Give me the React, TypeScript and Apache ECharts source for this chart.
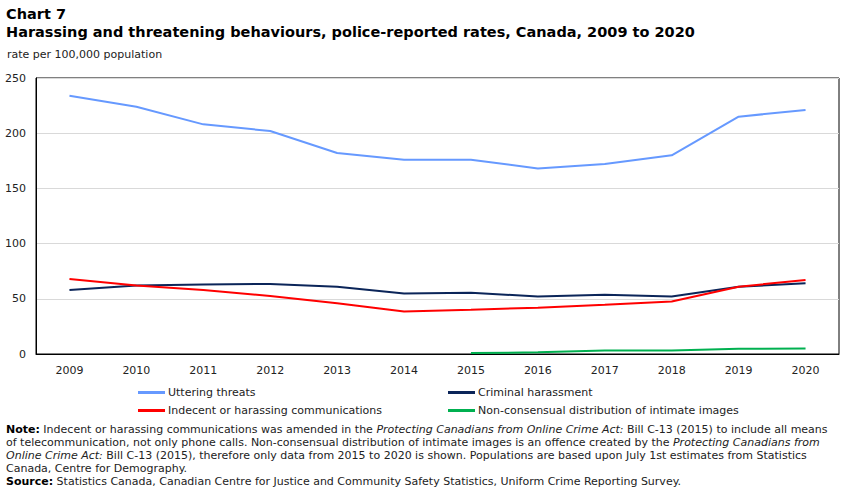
import React, { useEffect, useRef } from "react";
import * as echarts from "echarts";

const years = ["2009", "2010", "2011", "2012", "2013", "2014", "2015", "2016", "2017", "2018", "2019", "2020"];
const utteringThreats = [234, 224, 208, 202, 182, 176, 176, 168, 172, 180, 215, 221];
const criminalHarassment = [58, 62, 63, 63.5, 61, 54.8, 55.5, 52, 53.6, 52, 61, 64];
const indecentComms = [68, 62, 58, 52.5, 46, 38.5, 40, 42, 44.5, 47.5, 61, 67];
const nonConsensual = [null, null, null, null, null, null, 0.8, 1.5, 3.1, 3.2, 4.8, 4.9];
const yTicks = { min: 0, max: 250, interval: 50 };

const FONT = "DejaVu Sans, Verdana, sans-serif";

export default function App() {
  const ref = useRef<HTMLDivElement>(null);
  useEffect(() => {
    const chart = echarts.init(ref.current!, null, { renderer: "svg" });
    const legendBase = {
      orient: "vertical" as const,
      icon: "rect",
      itemWidth: 27,
      itemHeight: 3,
      itemGap: 7,
      padding: 0,
      textStyle: { fontFamily: FONT, fontSize: 11, color: "#222", padding: [0, 0, 0, -2] },
      selectedMode: false,
    };
    chart.setOption({
      animation: false,
      backgroundColor: "#fff",
      textStyle: { fontFamily: FONT },
      title: [
        { text: "Chart 7", left: 6, top: 6, padding: 0, textStyle: { fontFamily: FONT, fontSize: 14.5, fontWeight: "bold", color: "#000" } },
        { text: "Harassing and threatening behaviours, police-reported rates, Canada, 2009 to 2020", left: 6, top: 24, padding: 0, textStyle: { fontFamily: FONT, fontSize: 14.5, fontWeight: "bold", color: "#000" } },
        { text: "rate per 100,000 population", left: 7, top: 49, padding: 0, textStyle: { fontFamily: FONT, fontSize: 11, fontWeight: "normal", color: "#222" } },
      ],
      grid: { left: 36, right: 12, top: 78, bottom: 138, show: true, borderColor: "#000", borderWidth: 1, containLabel: false },
      legend: [
        { ...legendBase, left: 138, top: 387, data: ["Uttering threats", "Indecent or harassing communications"] },
        { ...legendBase, left: 448, top: 387, data: ["Criminal harassment", "Non-consensual distribution of intimate images"] },
      ],
      xAxis: {
        type: "category",
        data: years,
        boundaryGap: true,
        axisLine: { lineStyle: { color: "#000" } },
        axisTick: { alignWithLabel: true, inside: true, length: 3, lineStyle: { color: "#000" } },
        axisLabel: { fontFamily: FONT, fontSize: 11, color: "#222", margin: 11 },
      },
      yAxis: {
        type: "value",
        min: yTicks.min,
        max: yTicks.max,
        interval: yTicks.interval,
        axisLine: { show: true, lineStyle: { color: "#000" } },
        axisTick: { show: false },
        axisLabel: { fontFamily: FONT, fontSize: 11, color: "#222", margin: 10 },
        splitLine: { lineStyle: { color: "#d9d9d9" } },
      },
      series: [
        { name: "Uttering threats", type: "line", data: utteringThreats, color: "#6699ff", symbol: "none", lineStyle: { width: 2 } },
        { name: "Criminal harassment", type: "line", data: criminalHarassment, color: "#0b2559", symbol: "none", lineStyle: { width: 2 } },
        { name: "Indecent or harassing communications", type: "line", data: indecentComms, color: "#ff0000", symbol: "none", lineStyle: { width: 2 } },
        { name: "Non-consensual distribution of intimate images", type: "line", data: nonConsensual, color: "#00b050", symbol: "none", lineStyle: { width: 2 } },
      ],
      graphic: [
        {
          type: "text",
          left: 6,
          top: 423,
          style: {
            text: "{b|Note:} Indecent or harassing communications was amended in the {i|Protecting Canadians from Online Crime Act:} Bill C-13 (2015) to include all means\nof telecommunication, not only phone calls. Non-consensual distribution of intimate images is an offence created by the {i|Protecting Canadians from}\n{i|Online Crime Act:} Bill C-13 (2015), therefore only data from 2015 to 2020 is shown. Populations are based upon July 1st estimates from Statistics\nCanada, Centre for Demography.\n{b|Source:} Statistics Canada, Canadian Centre for Justice and Community Safety Statistics, Uniform Crime Reporting Survey.",
            font: `11px ${FONT}`,
            fill: "#222",
            lineHeight: 13,
            rich: {
              b: { fontWeight: "bold", fontFamily: FONT, fontSize: 11, fill: "#000", lineHeight: 13 },
              i: { fontStyle: "italic", fontFamily: FONT, fontSize: 11, fill: "#222", lineHeight: 13 },
            },
          },
        },
      ],
    });
    return () => chart.dispose();
  }, []);
  return <div ref={ref} style={{ width: 851, height: 492, position: "absolute", left: 0, top: 0 }} />;
}
